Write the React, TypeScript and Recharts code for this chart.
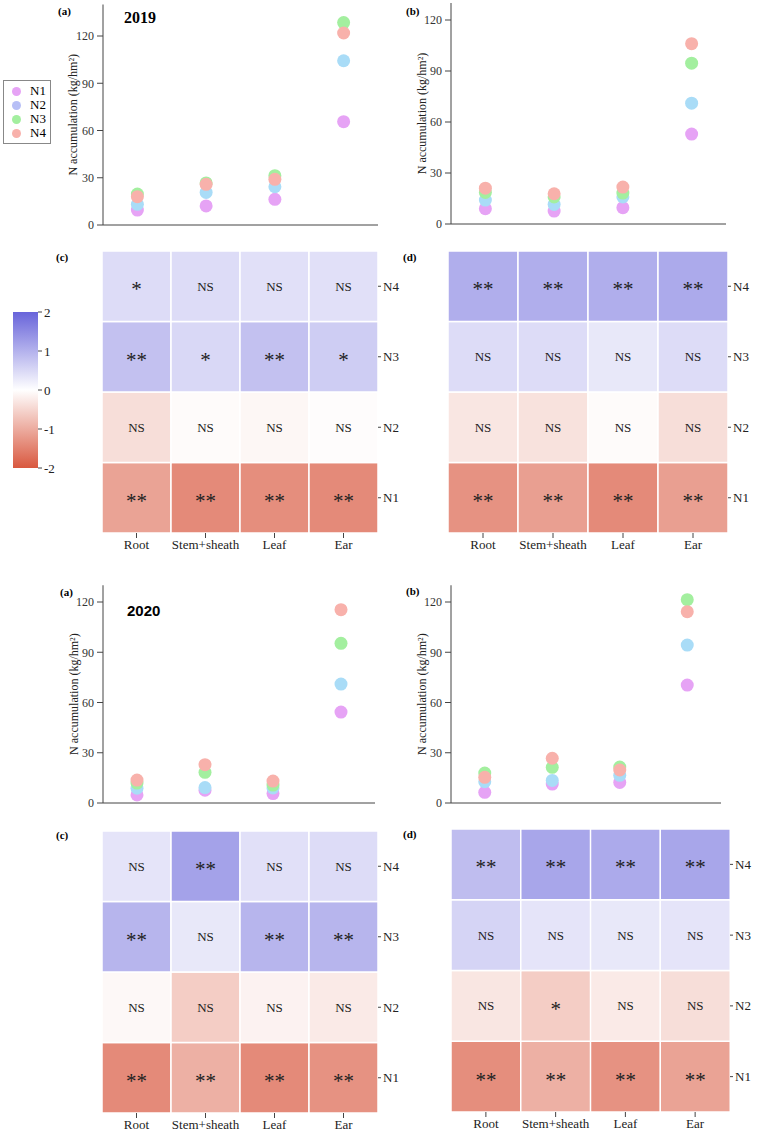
import React from 'react'
import { ScatterChart, Scatter, XAxis, YAxis, BarChart, Bar, Cell, LabelList, Legend } from 'recharts'

const parts = ['Root', 'Stem+sheath', 'Leaf', 'Ear']
const levels = ['N1', 'N2', 'N3', 'N4']
const levelColors = ['#e6a3f5', '#a9dcf7', '#a3ef9f', '#f8b1ab']
const legendColors = ['#e6a3f5', '#b7bff6', '#a3ef9f', '#f8b1ab']
const accTicks = [0, 30, 60, 90, 120]
const colorTicks = [-2, -1, 0, 1, 2]

// N accumulation (kg/hm2): rows N1..N4, columns Root, Stem+sheath, Leaf, Ear
const acc2019a = [
  [9.5, 12.1, 16.3, 65.6],
  [13.1, 20.7, 24.3, 104.3],
  [19.7, 26.7, 31.3, 128.5],
  [18.0, 25.8, 29.0, 121.9],
]
const acc2019b = [
  [9.0, 7.6, 9.6, 52.9],
  [14.1, 11.5, 15.9, 71.1],
  [18.6, 15.9, 18.2, 94.6],
  [21.1, 17.8, 21.7, 106.1],
]
const acc2020a = [
  [4.8, 7.6, 5.6, 54.3],
  [8.8, 9.2, 9.0, 71.0],
  [11.9, 18.3, 10.7, 95.3],
  [13.7, 22.9, 13.1, 115.4],
]
const acc2020b = [
  [6.4, 11.3, 12.3, 70.4],
  [12.7, 13.5, 16.5, 94.3],
  [17.9, 21.3, 21.5, 121.4],
  [15.3, 26.7, 19.7, 114.2],
]

// standardized scores for the heatmaps, rows N1..N4
const z2019c = [
  [-1.1, -1.4, -1.35, -1.4],
  [-0.4, -0.05, -0.1, -0.03],
  [0.8, 0.5, 0.8, 0.65],
  [0.45, 0.45, 0.4, 0.4],
]
const sig2019c = [
  ['**', '**', '**', '**'],
  ['NS', 'NS', 'NS', 'NS'],
  ['**', '*', '**', '*'],
  ['*', 'NS', 'NS', 'NS'],
]
const z2019d = [
  [-1.3, -1.15, -1.4, -1.15],
  [-0.3, -0.35, -0.05, -0.4],
  [0.45, 0.45, 0.3, 0.45],
  [1.05, 1.05, 1.05, 1.1],
]
const sig2019d = [
  ['**', '**', '**', '**'],
  ['NS', 'NS', 'NS', 'NS'],
  ['NS', 'NS', 'NS', 'NS'],
  ['**', '**', '**', '**'],
]
const z2020c = [
  [-1.4, -0.95, -1.4, -1.3],
  [-0.08, -0.6, -0.15, -0.25],
  [0.95, 0.3, 0.95, 0.95],
  [0.35, 1.2, 0.4, 0.45],
]
const sig2020c = [
  ['**', '**', '**', '**'],
  ['NS', 'NS', 'NS', 'NS'],
  ['**', 'NS', '**', '**'],
  ['NS', '**', 'NS', 'NS'],
]
const z2020d = [
  [-1.35, -0.95, -1.3, -1.1],
  [-0.3, -0.6, -0.25, -0.4],
  [0.55, 0.35, 0.3, 0.35],
  [0.85, 1.15, 1.1, 1.15],
]
const sig2020d = [
  ['**', '**', '**', '**'],
  ['NS', '*', 'NS', 'NS'],
  ['NS', 'NS', 'NS', 'NS'],
  ['**', '**', '**', '**'],
]

const hiColor = [104, 100, 218]
const loColor = [217, 88, 63]

function zColor(z: number) {
  const t = Math.max(-1, Math.min(1, z / 2))
  const c = t >= 0 ? hiColor : loColor
  const a = Math.abs(t)
  const mix = c.map((v) => Math.round(255 + (v - 255) * a))
  return `rgb(${mix[0]},${mix[1]},${mix[2]})`
}

const serif = '"Liberation Serif", "Times New Roman", serif'
const tickStyle = { fontSize: 13, fill: '#222', fontFamily: serif }

function LegendBox() {
  return (
    <div style={{ border: '1px solid #888', background: '#fff', padding: '3px 4px 3px 8px', width: 34 }}>
      {levels.map((l, i) => (
        <div key={l} style={{ display: 'flex', alignItems: 'center', height: 14, fontSize: 13, fontFamily: serif }}>
          <span style={{ width: 9, height: 9, borderRadius: '50%', background: legendColors[i], marginRight: 9 }} />
          <span>{l}</span>
        </div>
      ))}
    </div>
  )
}

function AccPanel({ left, top, width, height, axisX, marginTop, yMax, series, legend, labelX }: any) {
  return (
    <div style={{ position: 'absolute', left, top }}>
      <ScatterChart width={width - left} height={height} margin={{ top: marginTop, right: 0, bottom: 0, left: 0 }}>
        {/* ticks point up into the plot, no labels (the heatmap below carries them) */}
        <XAxis
          type="category"
          dataKey="part"
          allowDuplicatedCategory={false}
          height={12}
          stroke="#444"
          tickSize={-4}
          tick={false}
        />
        <YAxis
          type="number"
          dataKey="value"
          domain={[0, yMax]}
          ticks={accTicks}
          width={axisX - left}
          stroke="#444"
          tickSize={6}
          tickMargin={3}
          tick={{ fontSize: 12, fill: '#333', fontFamily: serif }}
          label={{
            value: 'N accumulation (kg/hm²)',
            angle: -90,
            position: 'insideLeft',
            offset: labelX - left,
            style: { textAnchor: 'middle', fontSize: 12, fill: '#222', fontFamily: serif },
          }}
        />
        {levels.map((l, i) => (
          <Scatter
            key={l}
            name={l}
            data={parts.map((p, j) => ({ part: p, value: series[i][j] }))}
            fill={levelColors[i]}
            isAnimationActive={false}
            shape={(p: any) => <circle cx={p.cx} cy={p.cy} r={6.5} fill={levelColors[i]} />}
          />
        ))}
        {legend && (
          <Legend
            layout="vertical"
            align="center"
            verticalAlign="middle"
            wrapperStyle={{ left: 3, top: 80, width: 'auto' }}
            content={() => <LegendBox />}
          />
        )}
      </ScatterChart>
    </div>
  )
}

function SigLabel(props: any) {
  const vb = props.viewBox || props
  const cx = vb.x + vb.width / 2
  const cy = vb.y + vb.height / 2
  const v = props.value
  if (v === 'NS') {
    return (
      <text x={cx} y={cy} textAnchor="middle" dominantBaseline="central" fontSize={13} fill="#222" fontFamily={serif}>
        {v}
      </text>
    )
  }
  return (
    <text x={cx} y={cy + 10} textAnchor="middle" fontSize={21} fill="#222" fontFamily={serif}>
      {v}
    </text>
  )
}

function HeatPanel({ left, top, plotW, plotH, z, sig }: any) {
  const data = parts.map((p, j) => {
    const row: any = { part: p }
    levels.forEach((l, i) => {
      row[l] = 1
      row[l + '_sig'] = sig[i][j]
    })
    return row
  })
  return (
    <div style={{ position: 'absolute', left, top }}>
      <BarChart
        width={plotW + 30}
        height={plotH + 30}
        data={data}
        margin={{ top: 0, right: 0, bottom: 0, left: 0 }}
        barCategoryGap={0}
        barGap={0}
      >
        <XAxis
          dataKey="part"
          axisLine={false}
          tickSize={5}
          height={30}
          interval={0}
          stroke="#444"
          tick={tickStyle}
        />
        <YAxis
          orientation="right"
          type="number"
          domain={[0, 4]}
          ticks={[0.5, 1.5, 2.5, 3.5]}
          tickFormatter={(v: number) => levels[Math.floor(v)]}
          axisLine={false}
          tickSize={3}
          tickMargin={2}
          width={30}
          stroke="#444"
          tick={{ ...tickStyle, textAnchor: 'start' }}
        />
        {levels.map((l, i) => (
          <Bar key={l} dataKey={l} stackId="z" isAnimationActive={false}>
            {parts.map((p, j) => (
              <Cell key={p} fill={zColor(z[i][j])} stroke="#fff" strokeWidth={1.5} />
            ))}
            <LabelList dataKey={l + '_sig'} content={SigLabel} />
          </Bar>
        ))}
      </BarChart>
    </div>
  )
}

function ColorBar() {
  const data = [{ name: 'z', range: [Math.min(...colorTicks), Math.max(...colorTicks)] }]
  return (
    <div style={{ position: 'absolute', left: 13, top: 304 }}>
      <BarChart width={50} height={172} data={data} margin={{ top: 8, right: 0, bottom: 8, left: 0 }} barCategoryGap={0}>
        <defs>
          <linearGradient id="zGrad" x1="0" y1="0" x2="0" y2="1">
            <stop offset="0%" stopColor={zColor(2)} />
            <stop offset="50%" stopColor="#ffffff" />
            <stop offset="100%" stopColor={zColor(-2)} />
          </linearGradient>
        </defs>
        <XAxis dataKey="name" hide />
        <YAxis
          orientation="right"
          type="number"
          domain={[-2, 2]}
          ticks={colorTicks}
          axisLine={false}
          tickSize={4}
          tickMargin={2}
          width={25}
          stroke="#444"
          tick={{ ...tickStyle, textAnchor: 'start' }}
        />
        <Bar dataKey="range" fill="url(#zGrad)" isAnimationActive={false} />
      </BarChart>
    </div>
  )
}

function PanelTag({ x, y, text }: any) {
  return (
    <div style={{ position: 'absolute', left: x, top: y, fontSize: 11, fontWeight: 'bold', fontFamily: serif }}>{text}</div>
  )
}

export default function App() {
  return (
    <div style={{ position: 'absolute', left: 0, top: 0, width: 757, height: 1136, background: '#fff', fontFamily: serif }}>
      <AccPanel left={0} top={0} width={378} height={237} axisX={103} marginTop={4.5} yMax={140} series={acc2019a} legend labelX={73} />
      <AccPanel left={380} top={0} width={726} height={236} axisX={451} marginTop={3} yMax={130} series={acc2019b} labelX={422} />
      <AccPanel left={0} top={570} width={375} height={245} axisX={103} marginTop={15.25} yMax={130} series={acc2020a} labelX={74} />
      <AccPanel left={380} top={570} width={721} height={245} axisX={451} marginTop={15.25} yMax={130} series={acc2020b} labelX={422} />

      <HeatPanel left={102} top={251} plotW={276} plotH={282} z={z2019c} sig={sig2019c} />
      <HeatPanel left={448} top={251} plotW={280} plotH={282} z={z2019d} sig={sig2019d} />
      <HeatPanel left={102} top={831} plotW={276} plotH={282} z={z2020c} sig={sig2020c} />
      <HeatPanel left={451} top={829} plotW={279} plotH={283} z={z2020d} sig={sig2020d} />

      <ColorBar />

      <PanelTag x={58} y={5} text="(a)" />
      <PanelTag x={406} y={5} text="(b)" />
      <PanelTag x={56} y={251} text="(c)" />
      <PanelTag x={403} y={251} text="(d)" />
      <PanelTag x={60} y={586} text="(a)" />
      <PanelTag x={406} y={585} text="(b)" />
      <PanelTag x={56} y={829} text="(c)" />
      <PanelTag x={403} y={828} text="(d)" />

      <div style={{ position: 'absolute', left: 124, top: 9, fontSize: 16, fontWeight: 'bold', fontFamily: serif }}>2019</div>
      <div style={{ position: 'absolute', left: 127, top: 602, fontSize: 15, fontWeight: 'bold', fontFamily: '"Liberation Sans", Arial, sans-serif' }}>2020</div>
    </div>
  )
}
